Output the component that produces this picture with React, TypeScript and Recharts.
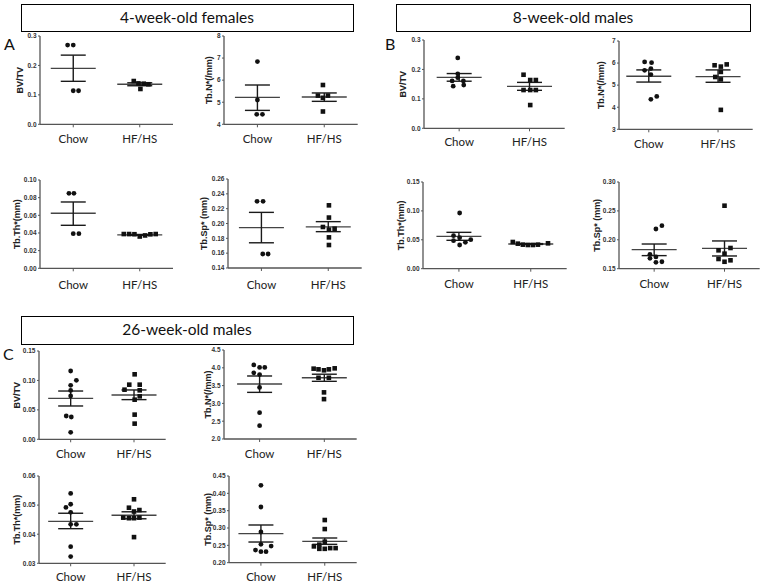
import { ScatterChart, Scatter, XAxis, YAxis, ReferenceLine } from 'recharts';

const groups = ['Chow', 'HF/HS'];

// ---- A: 4-week-old females ----
const bvA_ticks = [0, 0.1, 0.2, 0.3];
const bvA_chow = [0.269, 0.269, 0.114, 0.114];
const bvA_chowDx = [-0.085, 0, 0, 0.08];
const bvA_hf = [0.147, 0.139, 0.12, 0.138, 0.136];
const bvA_hfDx = [-0.09, -0.02, 0.01, 0.06, 0.13];
const bvA_stats = [[0.19, 0.146, 0.235], [0.136, 0.131, 0.141]];

const nA_ticks = [4, 5, 6, 7, 8];
const nA_chow = [6.84, 5.1, 4.45, 4.45];
const nA_chowDx = [0, 0, -0.01, 0.075];
const nA_hf = [5.78, 5.3, 5.3, 5.2, 4.58];
const nA_hfDx = [-0.02, -0.095, 0.055, -0.02, -0.02];
const nA_stats = [[5.22, 4.63, 5.78], [5.24, 5.04, 5.42]];

const thA_ticks = [0, 0.02, 0.04, 0.06, 0.08, 0.1];
const thA_chow = [0.0849, 0.0849, 0.0392, 0.0392];
const thA_chowDx = [-0.065, 0.01, 0, 0.085];
const thA_hf = [0.0388, 0.0388, 0.0386, 0.036, 0.0372, 0.0385, 0.0388];
const thA_hfDx = [-0.24, -0.16, -0.08, 0, 0.08, 0.16, 0.24];
const thA_stats = [[0.0623, 0.0487, 0.0751], [0.0378, 0.0373, 0.0383]];

const spA_ticks = [0.14, 0.16, 0.18, 0.2, 0.22, 0.24, 0.26];
const spA_chow = [0.2299, 0.2299, 0.1589, 0.1589];
const spA_chowDx = [-0.065, 0.025, 0.02, 0.1];
const spA_hf = [0.2245, 0.208, 0.1953, 0.1917, 0.193, 0.1813, 0.171];
const spA_hfDx = [0.01, 0.01, -0.08, 0.01, 0.095, 0.01, 0.01];
const spA_stats = [[0.1944, 0.174, 0.215], [0.1955, 0.189, 0.2025]];

// ---- B: 8-week-old males ----
const bvB_ticks = [0, 0.1, 0.2, 0.3];
const bvB_chow = [0.239, 0.185, 0.172, 0.161, 0.161, 0.143, 0.147];
const bvB_chowDx = [-0.02, -0.02, -0.02, -0.1, 0.06, -0.085, 0.065];
const bvB_hf = [0.182, 0.164, 0.164, 0.13, 0.13, 0.13, 0.079];
const bvB_hfDx = [-0.085, 0.01, 0.09, -0.085, 0.01, 0.09, 0.01];
const bvB_stats = [[0.173, 0.16, 0.186], [0.1426, 0.129, 0.156]];

const nB_ticks = [3, 4, 5, 6, 7];
const nB_chow = [6.05, 6.02, 5.67, 5.75, 5.48, 4.36, 4.49];
const nB_chowDx = [-0.06, 0.04, -0.06, 0.03, 0.03, 0.03, 0.115];
const nB_hf = [5.9, 5.84, 5.94, 5.6, 5.37, 5.26, 3.88];
const nB_hfDx = [-0.05, 0.04, 0.125, 0.04, -0.04, 0.04, 0.04];
const nB_stats = [[5.4, 5.14, 5.69], [5.385, 5.13, 5.69]];

const thB_ticks = [0, 0.05, 0.1, 0.15];
const thB_chow = [0.0964, 0.0572, 0.0537, 0.0485, 0.0456, 0.0502, 0.041];
const thB_chowDx = [0.01, -0.075, 0.01, -0.075, 0.09, 0.165, 0.01];
const thB_hf = [0.0462, 0.0433, 0.0416, 0.041, 0.041, 0.0416, 0.0439];
const thB_hfDx = [-0.25, -0.18, -0.11, -0.04, 0.03, 0.1, 0.24];
const thB_stats = [[0.056, 0.0491, 0.0629], [0.0427, 0.042, 0.0434]];

const spB_ticks = [0.15, 0.2, 0.25, 0.3];
const spB_chow = [0.2245, 0.2187, 0.1749, 0.1703, 0.168, 0.161, 0.162];
const spB_chowDx = [0.11, 0.025, -0.06, 0.025, -0.06, 0.025, 0.11];
const spB_hf = [0.259, 0.1858, 0.1818, 0.176, 0.1668, 0.162, 0.1645];
const spB_hfDx = [0, 0.085, -0.085, 0, -0.085, 0, 0.085];
const spB_stats = [[0.183, 0.1726, 0.1927], [0.1852, 0.172, 0.198]];

// ---- C: 26-week-old males ----
const bvC_ticks = [0, 0.05, 0.1, 0.15];
const bvC_chow = [0.116, 0.1002, 0.0917, 0.083, 0.0736, 0.0396, 0.0379, 0.0119];
const bvC_chowDx = [0, 0.09, 0, 0, 0, -0.07, 0.01, 0];
const bvC_hf = [0.1104, 0.0928, 0.0928, 0.0843, 0.0832, 0.073, 0.0673, 0.0419, 0.0266];
const bvC_hfDx = [0.01, -0.075, 0.09, -0.15, 0.09, 0.09, 0.01, 0.01, 0.01];
const bvC_stats = [[0.0696, 0.0566, 0.082], [0.0753, 0.0674, 0.0838]];

const nC_ticks = [2, 2.5, 3, 3.5, 4, 4.5];
const nC_chow = [4.08, 4.01, 4.01, 3.86, 3.81, 3.45, 2.74, 2.375];
const nC_chowDx = [-0.09, 0, 0.08, -0.09, 0, 0, 0, 0];
const nC_hf = [3.976, 3.957, 3.93, 3.957, 3.985, 3.72, 3.72, 3.31, 3.12];
const nC_hfDx = [-0.165, -0.09, -0.005, 0.07, 0.16, -0.09, 0.07, -0.005, -0.005];
const nC_stats = [[3.545, 3.31, 3.77], [3.72, 3.62, 3.82]];

const thC_ticks = [0.03, 0.04, 0.05, 0.06];
const thC_chow = [0.054, 0.0503, 0.0492, 0.0475, 0.0434, 0.0434, 0.0357, 0.0323];
const thC_chowDx = [0, 0, -0.075, 0, 0, 0.09, 0, 0];
const thC_hf = [0.052, 0.0491, 0.0483, 0.0478, 0.0457, 0.0455, 0.0455, 0.0457, 0.039];
const thC_hfDx = [0, -0.08, 0.085, 0, -0.17, -0.08, 0, 0.085, 0];
const thC_stats = [[0.0444, 0.0419, 0.0472], [0.0465, 0.0453, 0.0477]];

const spC_ticks = [0.2, 0.25, 0.3, 0.35, 0.4, 0.45];
const spC_chow = [0.423, 0.3606, 0.2885, 0.2529, 0.248, 0.2365, 0.2317, 0.2317];
const spC_chowDx = [0, 0, 0, 0, 0.16, -0.085, 0, 0.08];
const spC_hf = [0.323, 0.297, 0.2606, 0.247, 0.252, 0.24, 0.24, 0.242, 0.242];
const spC_hfDx = [0, 0, 0, -0.17, -0.085, -0.085, 0, 0.085, 0.17];
const spC_stats = [[0.2837, 0.2596, 0.3087], [0.2615, 0.2529, 0.2712]];

type Panel = {
  label: string;
  ticks: number[];
  dec: number;
  chow: number[];
  chowDx: number[];
  hf: number[];
  hfDx: number[];
  stats: number[][];
};

// plot box in page pixels: y-axis x, x-axis end, top tick y, bottom y
type Box = { x0: number; x1: number; yT: number; yB: number; gap: number; xm: number; xd?: number[] };

const panels: { p: Panel; b: Box }[] = [
  { p: { label: 'BV/TV', ticks: bvA_ticks, dec: 1, chow: bvA_chow, chowDx: bvA_chowDx, hf: bvA_hf, hfDx: bvA_hfDx, stats: bvA_stats },
    b: { x0: 40, x1: 173, yT: 36, yB: 124.3, gap: 20, xm: 8 } },
  { p: { label: 'Tb.N*(/mm)', ticks: nA_ticks, dec: 0, chow: nA_chow, chowDx: nA_chowDx, hf: nA_hf, hfDx: nA_hfDx, stats: nA_stats },
    b: { x0: 224.3, x1: 358, yT: 36, yB: 124.3, gap: 15, xm: 8 } },
  { p: { label: 'Tb.Th*(mm)', ticks: thA_ticks, dec: 2, chow: thA_chow, chowDx: thA_chowDx, hf: thA_hf, hfDx: thA_hfDx, stats: thA_stats },
    b: { x0: 40, x1: 173, yT: 180, yB: 268.3, gap: 23, xm: 10 } },
  { p: { label: 'Tb.Sp* (mm)', ticks: spA_ticks, dec: 2, chow: spA_chow, chowDx: spA_chowDx, hf: spA_hf, hfDx: spA_hfDx, stats: spA_stats },
    b: { x0: 228.3, x1: 362, yT: 179.3, yB: 268.3, gap: 24, xm: 10 } },
  { p: { label: 'BV/TV', ticks: bvB_ticks, dec: 1, chow: bvB_chow, chowDx: bvB_chowDx, hf: bvB_hf, hfDx: bvB_hfDx, stats: bvB_stats },
    b: { x0: 424.3, x1: 565, yT: 40, yB: 128.3, gap: 21.6, xm: 7 } },
  { p: { label: 'Tb.N*(/mm)', ticks: nB_ticks, dec: 0, chow: nB_chow, chowDx: nB_chowDx, hf: nB_hf, hfDx: nB_hfDx, stats: nB_stats },
    b: { x0: 619.3, x1: 753, yT: 40.7, yB: 129, gap: 18, xm: 8, xd: [0.57, 2.5] } },
  { p: { label: 'Tb.Th*(mm)', ticks: thB_ticks, dec: 2, chow: thB_chow, chowDx: thB_chowDx, hf: thB_hf, hfDx: thB_hfDx, stats: thB_stats },
    b: { x0: 423.3, x1: 567, yT: 182.3, yB: 269, gap: 22, xm: 8 } },
  { p: { label: 'Tb.Sp* (mm)', ticks: spB_ticks, dec: 2, chow: spB_chow, chowDx: spB_chowDx, hf: spB_hf, hfDx: spB_hfDx, stats: spB_stats },
    b: { x0: 619.3, x1: 760, yT: 182.3, yB: 269, gap: 22.6, xm: 8 } },
  { p: { label: 'BV/TV', ticks: bvC_ticks, dec: 2, chow: bvC_chow, chowDx: bvC_chowDx, hf: bvC_hf, hfDx: bvC_hfDx, stats: bvC_stats },
    b: { x0: 39.3, x1: 166, yT: 350.7, yB: 439, gap: 22.6, xm: 8 } },
  { p: { label: 'Tb.N*(/mm)', ticks: nC_ticks, dec: 1, chow: nC_chow, chowDx: nC_chowDx, hf: nC_hf, hfDx: nC_hfDx, stats: nC_stats },
    b: { x0: 224.3, x1: 357, yT: 350, yB: 439, gap: 16.6, xm: 8, xd: [0.45, 2.5] } },
  { p: { label: 'Tb.Th*(mm)', ticks: thC_ticks, dec: 2, chow: thC_chow, chowDx: thC_chowDx, hf: thC_hf, hfDx: thC_hfDx, stats: thC_stats },
    b: { x0: 39.3, x1: 166, yT: 476, yB: 563.3, gap: 22.6, xm: 7 } },
  { p: { label: 'Tb.Sp* (mm)', ticks: spC_ticks, dec: 2, chow: spC_chow, chowDx: spC_chowDx, hf: spC_hf, hfDx: spC_hfDx, stats: spC_stats },
    b: { x0: 229.3, x1: 357, yT: 476, yB: 562.7, gap: 21, xm: 7 } },
];

const headers = [
  { text: '4-week-old females', x: 21, y: 4, w: 332, h: 27 },
  { text: '8-week-old males', x: 396, y: 4, w: 354, h: 27 },
  { text: '26-week-old males', x: 21, y: 316, w: 332, h: 28 },
];
const letters = [
  { text: 'A', x: 4, y: 50 },
  { text: 'B', x: 385, y: 50 },
  { text: 'C', x: 3, y: 360 },
];

const AX = '#555';
const MEAN_HALF = 22.5;
const CAP_HALF = 12.5;

const Circle = (props: any) => <circle cx={props.cx} cy={props.cy} r={2.4} fill="#111" />;
const Square = (props: any) => <rect x={props.cx - 2.3} y={props.cy - 2.3} width={4.6} height={4.6} fill="#111" />;

function DotPlot({ p, b }: { p: Panel; b: Box }) {
  const YW = 48, MT = 8, MR = 4, XH = 34;
  const xd = b.xd ?? [0.5, 2.5];
  const w = YW + (b.x1 - b.x0) + MR;
  const h = MT + (b.yB - b.yT) + XH;
  const ppu = (b.x1 - b.x0) / (xd[1] - xd[0]);
  const mh = MEAN_HALF / ppu;
  const ch = CAP_HALF / ppu;
  const chow = p.chow.map((v, i) => ({ x: 1 + p.chowDx[i], y: v }));
  const hf = p.hf.map((v, i) => ({ x: 2 + p.hfDx[i], y: v }));
  const lines = p.stats.flatMap(([m, lo, hi], i) => {
    const c = i + 1;
    return [
      <ReferenceLine key={`m${i}`} segment={[{ x: c - mh, y: m }, { x: c + mh, y: m }]} stroke="#444" strokeWidth={1.4} />,
      <ReferenceLine key={`v${i}`} segment={[{ x: c, y: lo }, { x: c, y: hi }]} stroke="#1a1a1a" strokeWidth={1.4} />,
      <ReferenceLine key={`h${i}`} segment={[{ x: c - ch, y: hi }, { x: c + ch, y: hi }]} stroke="#1a1a1a" strokeWidth={1.4} />,
      <ReferenceLine key={`l${i}`} segment={[{ x: c - ch, y: lo }, { x: c + ch, y: lo }]} stroke="#1a1a1a" strokeWidth={1.4} />,
    ];
  });
  return (
    <div style={{ position: 'absolute', left: b.x0 - YW, top: b.yT - MT }}>
      <ScatterChart width={w} height={h} margin={{ top: MT, right: MR, bottom: 0, left: 0 }}>
        <XAxis
          type="number"
          dataKey="x"
          domain={xd}
          ticks={[1, 2]}
          tickFormatter={(v) => groups[v - 1]}
          height={XH}
          axisLine={{ stroke: AX, strokeWidth: 1.3 }}
          tickLine={{ stroke: AX }}
          tickSize={3}
          tickMargin={b.xm}
          tick={{ fontSize: 11.5, fill: '#222', fontFamily: 'Lato, sans-serif' }}
        />
        <YAxis
          type="number"
          dataKey="y"
          domain={[p.ticks[0], p.ticks[p.ticks.length - 1]]}
          ticks={p.ticks}
          tickFormatter={(v) => Number(v).toFixed(p.dec)}
          width={YW}
          axisLine={{ stroke: AX, strokeWidth: 1.3 }}
          tickLine={{ stroke: AX }}
          tickSize={2}
          tickMargin={1.5}
          tick={{ fontSize: 6.5, fontWeight: 700, fill: '#333', fontFamily: 'Liberation Sans, Arial, sans-serif' }}
          label={{
            value: p.label,
            angle: -90,
            position: 'insideLeft',
            offset: YW - b.gap,
            style: { textAnchor: 'middle', fontSize: 9, fontWeight: 700, fill: '#222', fontFamily: 'Liberation Sans, Arial, sans-serif' },
          }}
        />
        {lines}
        <Scatter data={chow} shape={Circle} isAnimationActive={false} />
        <Scatter data={hf} shape={Square} isAnimationActive={false} />
      </ScatterChart>
    </div>
  );
}

export default function App() {
  return (
    <div style={{ position: 'absolute', left: 0, top: 0, width: 764, height: 585, background: '#fff' }}>
      <svg width={764} height={585} style={{ position: 'absolute', left: 0, top: 0 }}>
        {headers.map((hd) => (
          <g key={hd.text}>
            <rect x={hd.x + 0.5} y={hd.y + 0.5} width={hd.w} height={hd.h} fill="#fff" stroke="#000" strokeWidth={1} />
            <text x={hd.x + hd.w / 2} y={hd.y + hd.h / 2 + 5} textAnchor="middle" fontSize={15.5} fontFamily="Lato, sans-serif" fill="#111">
              {hd.text}
            </text>
          </g>
        ))}
        {letters.map((l) => (
          <text key={l.text} x={l.x} y={l.y} fontSize={16} fontFamily="Lato, sans-serif" fill="#111">
            {l.text}
          </text>
        ))}
      </svg>
      {panels.map((pp, i) => (
        <DotPlot key={i} p={pp.p} b={pp.b} />
      ))}
    </div>
  );
}
